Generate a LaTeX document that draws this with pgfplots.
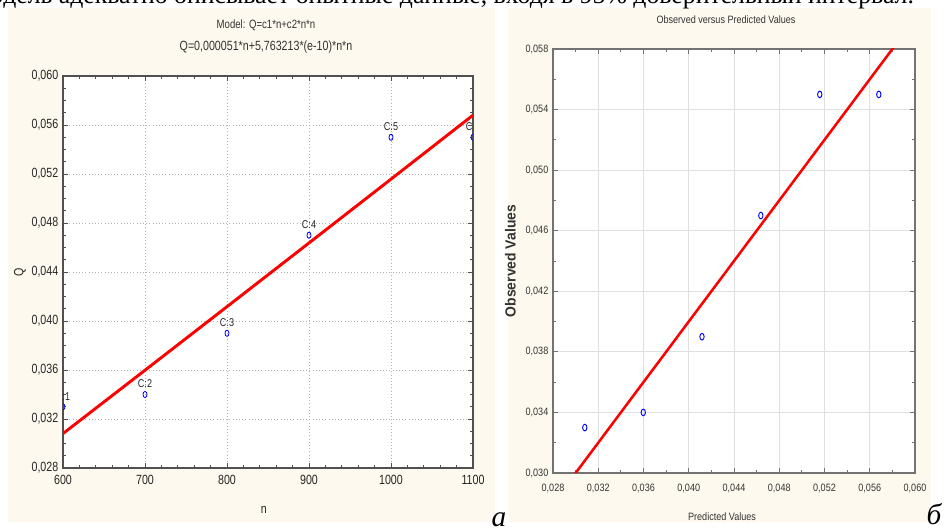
\documentclass[border=0pt]{standalone}
\usepackage{fontspec}
\setmainfont{Liberation Serif}
\newfontfamily\arnA[FakeStretch=0.8]{Liberation Sans}
\newfontfamily\arnB[FakeStretch=0.85]{Liberation Sans}
\newfontfamily\arnC[FakeStretch=0.95]{Liberation Sans}
\usepackage{pgfplots}
\pgfplotsset{compat=1.18}
\definecolor{cream}{HTML}{FDF9EE}
\definecolor{gridgray}{HTML}{B0B0B0}
\definecolor{framegray}{HTML}{505050}

\pgfplotstableread{
x y lab
600 0.033 C:1
700 0.034 C:2
800 0.039 C:3
900 0.047 C:4
1000 0.055 C:5
1100 0.055 C:6
}\obsdata

\pgfplotstableread{
x y
600 0.03081
700 0.03598
800 0.04117
900 0.04637
1000 0.05158
1100 0.05680
}\fitdata

\pgfplotstableread{
x y
0.03081 0.033
0.03598 0.034
0.04117 0.039
0.04637 0.047
0.05158 0.055
0.05680 0.055
}\ovpdata

\begin{document}
\begin{tikzpicture}
\begin{scope}[x=0.75pt,y=0.75pt]
\useasboundingbox (0,0) rectangle (946,531);
\clip (0,0) rectangle (946,531);
\fill[white] (0,0) rectangle (946,531);
\fill[cream] (8,9) rectangle (495,523);
\fill[cream] (508,9) rectangle (931,523);
\node[anchor=base west, inner sep=0pt] at (3,527)
  {\resizebox{683pt}{!}{\fontsize{20}{24}\selectfont\llap{мо}дель адекватно описывает опытные данные, входя в 95\% доверительный интервал.}};

% left titles
\node[font=\arnA\fontsize{9}{11}\selectfont, text=black!80] at (266,506) {Model: Q=c1*n+c2*n*n};
\node[font=\arnA\fontsize{10}{12}\selectfont, text=black!80] at (266,484) {Q=0,000051*n+5,763213*(e-10)*n*n};
% right title
\node[font=\arnB\fontsize{8}{10}\selectfont, text=black!80] at (726,511) {Observed versus Predicted Values};

% panel letters
\node[anchor=base, inner sep=0pt, font=\itshape\fontsize{22}{24}\selectfont] at (499,4) {а};
\node[anchor=base, inner sep=0pt, font=\itshape\fontsize{22}{24}\selectfont] at (934,6) {б};
\end{scope}

\begin{axis}[
  at={(47.25pt,47.25pt)}, anchor=south west, scale only axis,
  width=307.5pt, height=294pt,
  xmin=600, xmax=1100, ymin=0.028, ymax=0.060,
  xtick={600,700,800,900,1000,1100},
  ytick={0.028,0.032,0.036,0.040,0.044,0.048,0.052,0.056,0.060},
  minor x tick num=4, minor y tick num=3,
  scaled ticks=false,
  yticklabel style={/pgf/number format/fixed, /pgf/number format/fixed zerofill, /pgf/number format/precision=3, /pgf/number format/use comma},
  xticklabel style={/pgf/number format/fixed, /pgf/number format/1000 sep={}, yshift=-2pt},
  tick label style={font=\arnA\fontsize{10}{12}\selectfont, text=black!85},
  /pgf/number format/assume math mode=true,
  tick align=inside, xtick pos=both, ytick pos=both,
  major tick length=4pt, minor tick length=2.5pt,
  every tick/.style={framegray, line width=0.6pt},
  axis line style={framegray, line width=0.9pt},
  axis background/.style={fill=white},
  grid=major,
  major grid style={gridgray, dotted, line width=0.6pt},
  xlabel={n}, ylabel={Q},
  label style={font=\arnA\fontsize{10}{12}\selectfont, text=black!85},
  xlabel style={at={(axis description cs:0.49,-0.107)}, anchor=center},
  ylabel style={at={(axis description cs:-0.105,0.5)}, anchor=center},
  clip marker paths=true, clip mode=global,
]
\addplot[red, line width=2.2pt] table[x=x,y=y] {\fitdata};
\addplot[only marks, mark=o, blue, mark size=2.3pt,
  mark options={xscale=0.65, line width=0.6pt},
  nodes near coords, point meta=explicit symbolic,
  nodes near coords style={font=\arnA\fontsize{8.5}{10}\selectfont, text=black!85, anchor=south, yshift=3.5pt, inner sep=1pt}]
  table[x=x,y=y,meta=lab] {\obsdata};
\end{axis}

\begin{axis}[
  at={(414.75pt,43.5pt)}, anchor=south west, scale only axis,
  width=271.5pt, height=318pt,
  xmin=0.028, xmax=0.060, ymin=0.030, ymax=0.058,
  xtick={0.028,0.032,0.036,0.040,0.044,0.048,0.052,0.056,0.060},
  ytick={0.030,0.034,0.038,0.042,0.046,0.050,0.054,0.058},
  minor x tick num=1, minor y tick num=1,
  scaled ticks=false,
  tick label style={/pgf/number format/fixed, /pgf/number format/fixed zerofill, /pgf/number format/precision=3, /pgf/number format/use comma},
  tick label style={font=\arnB\fontsize{8}{10}\selectfont, text=black!80},
  xticklabel style={yshift=-5pt},
  /pgf/number format/assume math mode=true,
  tick align=inside, xtick pos=both, ytick pos=both,
  major tick length=3.5pt, minor tick length=2.5pt,
  every tick/.style={black!55, line width=0.6pt},
  axis line style={black!55, line width=1pt},
  axis background/.style={fill=white},
  grid=major,
  major grid style={black!12, line width=0.6pt},
  xlabel={Predicted Values}, ylabel={\arnC\fontsize{11}{13}\selectfont\bfseries Observed Values},
  label style={font=\arnB\fontsize{8}{10}\selectfont, text=black!80},
  xlabel style={at={(axis description cs:0.467,-0.104)}, anchor=center},
  ylabel style={at={(axis description cs:-0.118,0.5)}, anchor=center},
  clip marker paths=true,
]
\addplot[red, line width=1.9pt] coordinates {(0.029,0.029) (0.059,0.059)};
\addplot[only marks, mark=o, blue, mark size=2.5pt,
  mark options={xscale=0.65, line width=0.7pt}]
  table[x=x,y=y] {\ovpdata};
\end{axis}
\end{tikzpicture}
\end{document}
